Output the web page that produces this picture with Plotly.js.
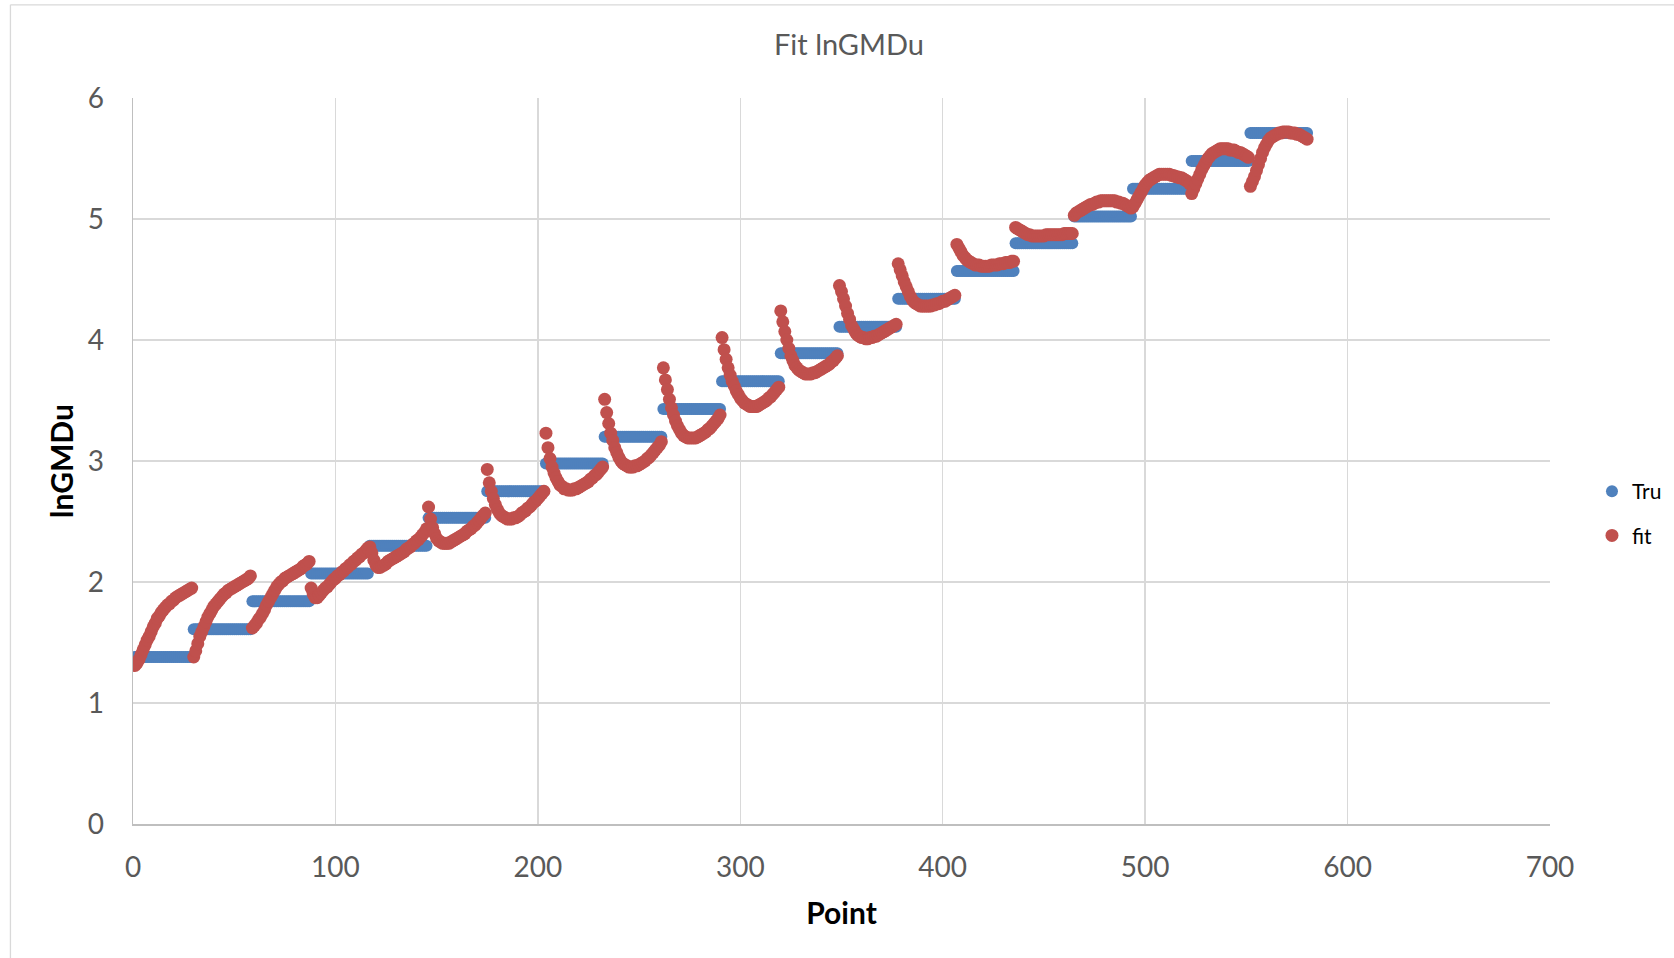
<!DOCTYPE html>
<html>
<head>
<meta charset="utf-8">
<script src="https://cdn.plot.ly/plotly-3.0.1.min.js"></script>
<style>
  html, body { margin: 0; padding: 0; background: #ffffff; }
  #chart { width: 1674px; height: 958px; }
</style>
</head>
<body>
<div id="chart"></div>
<script>
// ---- Data ----
const chartTitle = "Fit lnGMDu";
const xTitle = "Point";
const yTitle = "lnGMDu";
const seriesNames = ["Tru", "fit"];

// Points per step of the true value
const pointsPerStep = 29;

// True value level of each step (20 steps)
const truLevels = [1.38, 1.61, 1.84, 2.07, 2.30, 2.53, 2.75, 2.98, 3.20, 3.43,
                   3.66, 3.89, 4.11, 4.34, 4.57, 4.80, 5.02, 5.25, 5.48, 5.71];

// Fitted values, one row per step (29 points each)
const fitByStep = [
  [1.31,1.33,1.36,1.40,1.44,1.48,1.52,1.55,1.59,1.63,1.66,1.70,1.72,1.75,1.77,1.79,1.81,1.82,1.84,1.85,1.87,1.88,1.89,1.90,1.91,1.92,1.93,1.94,1.95],
  [1.38,1.43,1.49,1.55,1.59,1.63,1.67,1.71,1.74,1.77,1.80,1.82,1.84,1.86,1.88,1.90,1.91,1.93,1.94,1.95,1.96,1.97,1.98,1.99,2.00,2.01,2.02,2.03,2.05],
  [1.62,1.64,1.66,1.69,1.71,1.74,1.77,1.81,1.84,1.87,1.90,1.93,1.96,1.98,2.00,2.01,2.03,2.04,2.05,2.06,2.07,2.08,2.09,2.10,2.11,2.13,2.14,2.15,2.17],
  [1.95,1.90,1.87,1.87,1.89,1.91,1.93,1.95,1.96,1.98,2.00,2.02,2.03,2.05,2.06,2.08,2.09,2.11,2.12,2.14,2.15,2.17,2.18,2.20,2.21,2.23,2.24,2.26,2.28],
  [2.29,2.24,2.18,2.14,2.12,2.12,2.13,2.14,2.15,2.17,2.18,2.19,2.20,2.21,2.22,2.23,2.24,2.25,2.27,2.28,2.29,2.31,2.32,2.34,2.35,2.37,2.39,2.41,2.44],
  [2.62,2.52,2.45,2.40,2.36,2.34,2.33,2.32,2.32,2.32,2.32,2.33,2.34,2.35,2.36,2.37,2.38,2.39,2.40,2.42,2.43,2.44,2.46,2.47,2.49,2.51,2.53,2.55,2.57],
  [2.93,2.82,2.75,2.69,2.64,2.60,2.57,2.55,2.54,2.53,2.52,2.52,2.52,2.53,2.53,2.54,2.55,2.57,2.58,2.59,2.61,2.62,2.64,2.66,2.67,2.69,2.71,2.73,2.75],
  [3.23,3.11,3.02,2.95,2.90,2.86,2.83,2.80,2.79,2.77,2.77,2.76,2.76,2.76,2.77,2.77,2.78,2.79,2.80,2.81,2.82,2.83,2.85,2.86,2.88,2.89,2.91,2.93,2.95],
  [3.51,3.40,3.31,3.23,3.17,3.11,3.07,3.03,3.00,2.98,2.97,2.96,2.95,2.95,2.95,2.96,2.96,2.97,2.98,2.99,3.00,3.02,3.03,3.05,3.07,3.09,3.11,3.13,3.16],
  [3.77,3.67,3.59,3.51,3.44,3.38,3.33,3.29,3.26,3.23,3.21,3.20,3.19,3.19,3.19,3.19,3.19,3.20,3.21,3.22,3.23,3.24,3.26,3.27,3.29,3.31,3.33,3.35,3.38],
  [4.02,3.92,3.84,3.77,3.71,3.66,3.62,3.58,3.55,3.52,3.50,3.48,3.47,3.46,3.45,3.45,3.45,3.45,3.46,3.47,3.48,3.49,3.50,3.52,3.53,3.55,3.57,3.59,3.61],
  [4.24,4.15,4.07,4.00,3.93,3.87,3.83,3.79,3.77,3.75,3.74,3.73,3.72,3.72,3.72,3.72,3.73,3.73,3.74,3.75,3.76,3.77,3.78,3.79,3.80,3.82,3.83,3.85,3.87],
  [4.45,4.40,4.34,4.28,4.22,4.17,4.12,4.09,4.06,4.04,4.03,4.02,4.02,4.01,4.01,4.02,4.02,4.03,4.03,4.04,4.05,4.06,4.07,4.08,4.09,4.10,4.11,4.12,4.13],
  [4.63,4.58,4.53,4.48,4.44,4.40,4.36,4.33,4.31,4.30,4.29,4.28,4.28,4.28,4.28,4.28,4.28,4.29,4.29,4.30,4.30,4.31,4.32,4.32,4.33,4.34,4.35,4.36,4.37],
  [4.79,4.76,4.73,4.70,4.68,4.66,4.65,4.64,4.63,4.62,4.62,4.62,4.61,4.61,4.61,4.61,4.61,4.62,4.62,4.62,4.62,4.63,4.63,4.63,4.64,4.64,4.64,4.65,4.65],
  [4.93,4.92,4.91,4.90,4.89,4.88,4.87,4.87,4.86,4.86,4.86,4.86,4.86,4.86,4.86,4.87,4.87,4.87,4.87,4.87,4.87,4.87,4.87,4.87,4.88,4.88,4.88,4.88,4.88],
  [5.03,5.05,5.06,5.07,5.08,5.09,5.10,5.11,5.12,5.12,5.13,5.14,5.14,5.15,5.15,5.15,5.15,5.15,5.15,5.15,5.15,5.14,5.14,5.13,5.13,5.12,5.11,5.10,5.09],
  [5.10,5.13,5.16,5.19,5.22,5.25,5.28,5.30,5.32,5.33,5.34,5.35,5.36,5.37,5.37,5.37,5.37,5.37,5.37,5.36,5.36,5.35,5.35,5.34,5.34,5.33,5.32,5.31,5.29],
  [5.21,5.25,5.29,5.33,5.37,5.41,5.44,5.47,5.50,5.52,5.54,5.55,5.56,5.57,5.58,5.58,5.58,5.58,5.58,5.57,5.57,5.57,5.56,5.55,5.55,5.54,5.53,5.52,5.51],
  [5.27,5.31,5.35,5.40,5.45,5.50,5.55,5.59,5.62,5.65,5.67,5.68,5.69,5.70,5.71,5.71,5.72,5.72,5.72,5.72,5.71,5.71,5.71,5.70,5.70,5.69,5.68,5.67,5.66]
];

const xTickVals = [0, 100, 200, 300, 400, 500, 600, 700];
const yTickVals = [0, 1, 2, 3, 4, 5, 6];

// ---- Build series (point numbers start at 1) ----
const xPts = [], truY = [], fitY = [];
truLevels.forEach((lvl, s) => {
  for (let j = 0; j < pointsPerStep; j++) {
    xPts.push(s * pointsPerStep + j + 1);
    truY.push(lvl);
    fitY.push(fitByStep[s][j]);
  }
});

const FONT = "Lato, 'Open Sans', 'Noto Sans', sans-serif";

const traces = [
  {
    type: "scatter", mode: "markers", name: seriesNames[0],
    x: xPts, y: truY, legendgroup: "a",
    marker: { color: "#4F81BD", size: 12, line: { width: 0 } }
  },
  {
    type: "scatter", mode: "markers", name: seriesNames[1],
    x: xPts, y: fitY, legendgroup: "b",
    marker: { color: "#C0504D", size: 13, line: { width: 0 } }
  }
];

const layout = {
  width: 1674, height: 958,
  paper_bgcolor: "#ffffff", plot_bgcolor: "#ffffff",
  margin: { l: 133, r: 124, t: 98, b: 134, pad: 0, autoexpand: false },
  font: { family: FONT, color: "#595959" },
  title: {
    text: chartTitle,
    font: { family: FONT, size: 29, color: "#595959" },
    x: 0.5053, xref: "paper", xanchor: "center",
    y: 0.953, yref: "container", yanchor: "middle"
  },
  xaxis: {
    range: [0, 700], tickvals: xTickVals, ticktext: xTickVals.map(String),
    showgrid: true, gridcolor: "#D9D9D9", gridwidth: 1.3,
    showline: true, linecolor: "#BFBFBF", linewidth: 1.5,
    zeroline: false, ticks: "", ticklen: 0, ticklabelstandoff: 18,
    tickfont: { family: FONT, size: 28, color: "#595959" },
    title: { text: xTitle, font: { family: FONT, size: 30, color: "#000000", weight: "bold" }, standoff: 21 },
    automargin: false
  },
  yaxis: {
    range: [0, 6], tickvals: yTickVals, ticktext: yTickVals.map(String),
    showgrid: true, gridcolor: "#D9D9D9", gridwidth: 1.3,
    showline: true, linecolor: "#BFBFBF", linewidth: 1.5,
    zeroline: false, ticks: "", ticklen: 0, ticklabelstandoff: 22,
    tickfont: { family: FONT, size: 28, color: "#595959" },
    title: { text: yTitle, font: { family: FONT, size: 30, color: "#000000", weight: "bold" }, standoff: 5 },
    automargin: false
  },
  legend: {
    xref: "container", yref: "container",
    x: 0.951, xanchor: "left", y: 0.464, yanchor: "middle",
    font: { family: FONT, size: 21, color: "#000000" },
    tracegroupgap: 14, itemwidth: 30,
    bgcolor: "rgba(0,0,0,0)"
  },
  showlegend: true,
  shapes: [
    { type: "line", xref: "paper", yref: "paper", x0: -0.0865, x1: -0.0865, y0: -0.2, y1: 1.1284,
      line: { color: "#D9D9D9", width: 1.3 } },
    { type: "line", xref: "paper", yref: "paper", x0: -0.0865, x1: 1.2, y0: 1.1284, y1: 1.1284,
      line: { color: "#D9D9D9", width: 1.3 } }
  ]
};

Plotly.newPlot("chart", traces, layout, { displayModeBar: false, staticPlot: true });
</script>
</body>
</html>
